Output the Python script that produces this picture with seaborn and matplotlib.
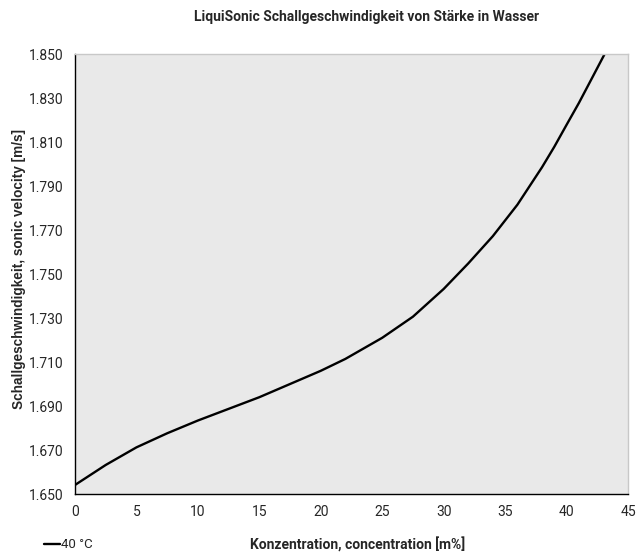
import numpy as np
import pandas as pd
import seaborn as sns
import matplotlib.pyplot as plt

# data (40 °C)
konz = [0, 2.5, 5, 7.5, 10, 12.5, 15, 17.5, 20, 22, 25, 27.5, 30, 32, 34, 36, 38, 39, 40, 41, 42, 43.1]
velocity = [1.6541, 1.6632, 1.6712, 1.6776, 1.6834, 1.6887, 1.6940, 1.7000, 1.7060, 1.7114,
            1.7210, 1.7306, 1.7432, 1.7548, 1.7672, 1.7815, 1.7985, 1.8078, 1.8178, 1.8277,
            1.8383, 1.8500]
series_label = "40 °C"
x_ticks = [0, 5, 10, 15, 20, 25, 30, 35, 40, 45]
y_ticks = [1.650, 1.670, 1.690, 1.710, 1.730, 1.750, 1.770, 1.790, 1.810, 1.830, 1.850]

df = pd.DataFrame({"Konzentration": konz, "Velocity": velocity})

sns.set_style("white")
plt.rcParams["font.family"] = ["Roboto", "DejaVu Sans"]

fig = plt.figure(figsize=(6.36, 5.53), dpi=100)
ax = fig.add_axes([75 / 636, 1 - 494 / 553, (628 - 75) / 636, (494 - 54) / 553])
ax.set_facecolor("#e9e9e9")

sns.lineplot(data=df, x="Konzentration", y="Velocity", ax=ax, color="black",
             linewidth=1.7, label=series_label, legend=False)

ax.set_xlim(0, 45)
ax.set_ylim(1.650, 1.850)
ax.set_xticks(x_ticks)
ax.set_yticks(y_ticks)
ax.set_yticklabels([f"{v:.3f}" for v in y_ticks], fontsize=10)
ax.set_xticklabels([str(v) for v in x_ticks], fontsize=10)
ax.tick_params(direction="inout", length=8, width=1, color="black", pad=4)
ax.set_xlabel("")
ax.set_ylabel("")

for side in ["left", "bottom"]:
    ax.spines[side].set_color("black")
    ax.spines[side].set_linewidth(1)
for side in ["top", "right"]:
    ax.spines[side].set_color("#c8c8c8")
    ax.spines[side].set_linewidth(1)

fig.text(366 / 636, 1 - 17 / 553, "LiquiSonic Schallgeschwindigkeit von Stärke in Wasser",
         ha="center", va="center", fontsize=10, fontweight="bold")
fig.text(358 / 636, 1 - 545 / 553, "Konzentration, concentration [m%]",
         ha="center", va="center", fontsize=10, fontweight="bold")
fig.text(19 / 636, 1 - 269 / 553, "Schallgeschwindigkeit, sonic velocity [m/s]",
         ha="center", va="center", rotation=90, fontsize=9.8, fontweight="bold",
         family="Liberation Sans")

handles, labels = ax.get_legend_handles_labels()
fig.legend(handles, labels, loc="center left", bbox_to_anchor=(32 / 636, 1 - 545 / 553),
           frameon=False, fontsize=9.5, handlelength=1.2, handletextpad=0.1)

fig.savefig("out.png", dpi=100)
